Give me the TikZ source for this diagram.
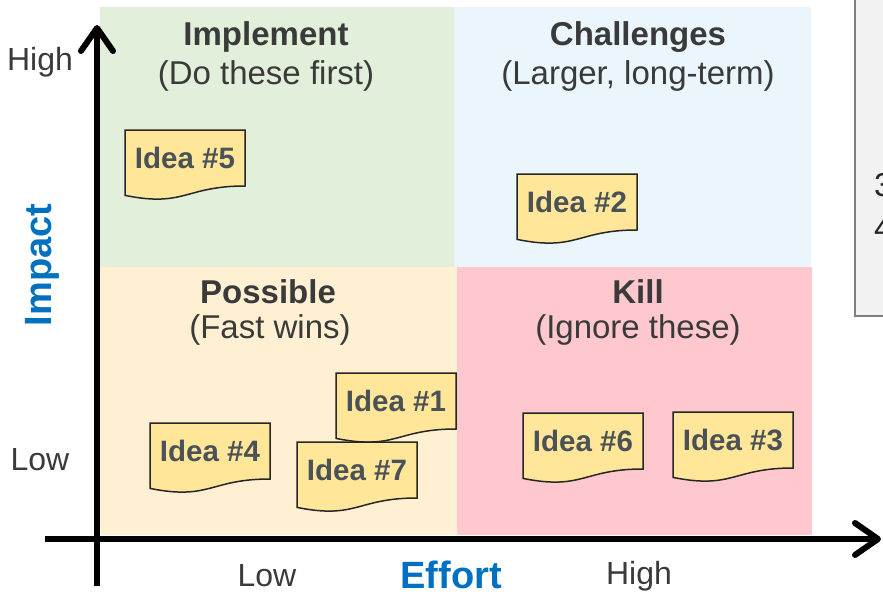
\documentclass[tikz,border=0pt]{standalone}
\usepackage{fontspec}
\setmainfont{Liberation Sans}
\usetikzlibrary{arrows.meta}
\definecolor{qgreen}{HTML}{E2EFDA}
\definecolor{qblue}{HTML}{EAF5FC}
\definecolor{qbeige}{HTML}{FFF0D4}
\definecolor{qpink}{HTML}{FFC7CE}
\definecolor{notefill}{HTML}{FFE699}
\definecolor{notetext}{HTML}{4A5157}
\definecolor{titletext}{HTML}{3A3A3A}
\definecolor{axisblue}{HTML}{0070C0}
\definecolor{sidefill}{HTML}{F2F2F2}
\definecolor{sideline}{HTML}{7F7F7F}
% note with wavy bottom: name, left x, top y, text
\newcommand{\ideanote}[4]{%
  \draw[notebox] (#2,#3) -- ({#2+120},#3) -- ({#2+120},{#3+56})
    .. controls ({#2+60},{#3+56}) and ({#2+60},{#3+77.5}) .. (#2,{#3+65.4}) -- cycle;
  \node[notelabel] (#1) at ({#2+60},{#3+28}) {#4};
}
\begin{document}
\begin{tikzpicture}[x=1pt,y=-1pt,
    quadtitle/.style={font=\fontsize{33}{38}\selectfont\bfseries, text=titletext},
    quadsub/.style={font=\fontsize{33}{38}\selectfont, text=titletext},
    notebox/.style={draw=black!85, line width=1.5pt, fill=notefill},
    notelabel/.style={font=\fontsize{29.5}{34}\selectfont\bfseries, text=notetext, inner sep=0pt},
    ticklabel/.style={font=\fontsize{32}{36}\selectfont, text=titletext},
    axislabel/.style={font=\fontsize{38}{42}\selectfont\bfseries, text=axisblue},
    axisline/.style={line width=6pt, -{Straight Barb[length=23pt,width=32pt,round]}}]
  \useasboundingbox (0,0) rectangle (883,594);

  % quadrants
  \fill[qblue] (454,7) rectangle (811,281);
  \fill[qgreen] (100,7) rectangle (454,267);
  \fill[qbeige] (100,267) rectangle (457,535);
  \fill[qpink] (457,267) rectangle (812,535);

  % box on the right edge
  \draw[sideline, line width=2pt, fill=sidefill] (855,-10) rectangle (900,316);
  \node[font=\fontsize{33}{38}\selectfont, text=black!85, anchor=west, inner sep=0pt] (three) at (874,185) {3};
  \node[font=\fontsize{33}{38}\selectfont, text=black!85, anchor=west, inner sep=0pt] (four) at (874,228) {4};

  \node[quadtitle] (implement) at (266,37) {Implement};
  \node[quadsub] (implementsub) at (266,76) {(Do these first)};
  \node[quadtitle] (challenges) at (638,37) {Challenges};
  \node[quadsub] (challengessub) at (638,76) {(Larger, long-term)};
  \node[quadtitle] (possible) at (268,292) {Possible};
  \node[quadsub] (possiblesub) at (270,330) {(Fast wins)};
  \node[quadtitle] (kill) at (638,292) {Kill};
  \node[quadsub] (killsub) at (638,330) {(Ignore these)};

  \ideanote{idea5}{125}{130}{Idea \#5}
  \ideanote{idea2}{517}{174}{Idea \#2}
  \ideanote{idea1}{336}{373}{Idea \#1}
  \ideanote{idea4}{150}{423}{Idea \#4}
  \ideanote{idea7}{297}{442}{Idea \#7}
  \ideanote{idea6}{523}{413}{Idea \#6}
  \ideanote{idea3}{673}{412}{Idea \#3}

  % axes
  \coordinate (ybot) at (97,586);
  \coordinate (ytop) at (97,25);
  \coordinate (xleft) at (45,539);
  \coordinate (xright) at (881,539);
  \draw[axisline] (ybot) -- (ytop);
  \draw[axisline] (xleft) -- (xright);

  \node[ticklabel] (yhigh) at (40,62) {High};
  \node[ticklabel] (ylow) at (40,460) {Low};
  \node[axislabel, rotate=90] (impact) at (42,265) {Impact};
  \node[ticklabel] (xlow) at (267,576) {Low};
  \node[axislabel] (effort) at (451,575) {Effort};
  \node[ticklabel] (xhigh) at (639,576) {High};
\end{tikzpicture}
\end{document}
